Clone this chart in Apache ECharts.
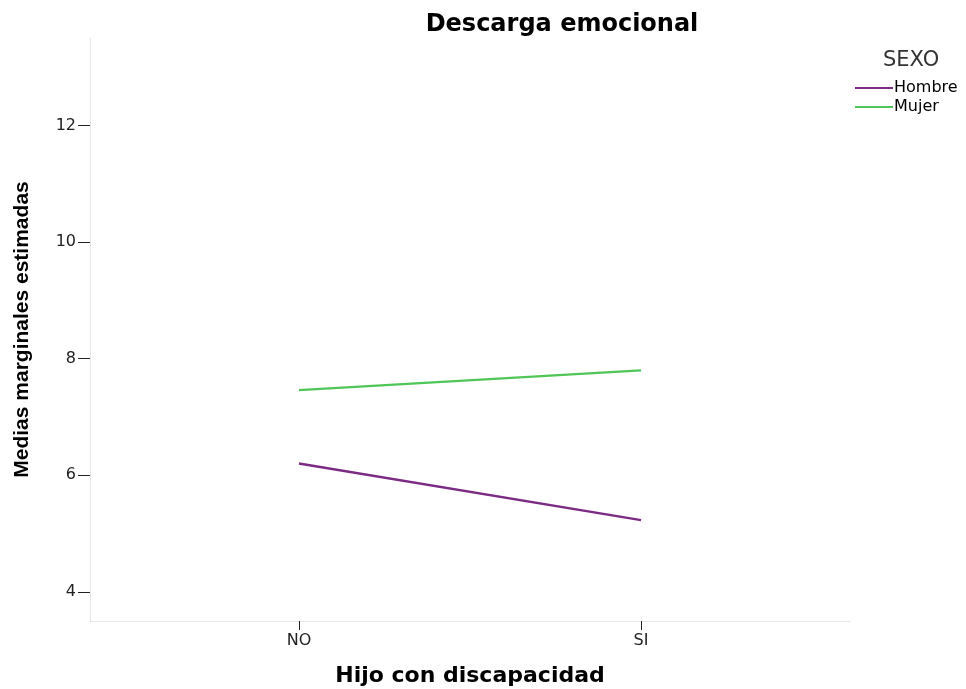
<!DOCTYPE html>
<html>
<head>
<meta charset="utf-8">
<script src="https://cdn.jsdelivr.net/npm/echarts@6/dist/echarts.min.js"></script>
<style>
  html, body { margin: 0; padding: 0; background: #fff; }
  #chart { width: 966px; height: 689px; }
</style>
</head>
<body>
<div id="chart"></div>
<script>
// categorias del eje X
const categorias = ['NO', 'SI']
// medias marginales estimadas por sexo
const hombre = [6.20, 5.23]
const mujer = [7.46, 7.80]
const ticksY = [4, 6, 8, 10, 12]

const chart = echarts.init(document.getElementById('chart'))

const toPoints = (vals) => vals.map((v, i) => [i, v])

const option = {
  backgroundColor: '#fff',
  animation: false,
  title: [
    {
      text: 'Descarga emocional',
      left: 557,
      top: 8,
      textAlign: 'center',
      textStyle: { fontFamily: 'DejaVu Sans', fontWeight: 'bold', fontSize: 24, color: '#000' }
    },
    {
      text: 'SEXO',
      left: 878,
      top: 45,
      textStyle: { fontFamily: 'DejaVu Sans', fontWeight: 'normal', fontSize: 21, color: '#333' }
    }
  ],
  legend: {
    orient: 'vertical',
    left: 850,
    top: 75,
    itemGap: 3,
    itemWidth: 38,
    itemHeight: 2,
    icon: 'rect',
    textStyle: { fontFamily: 'DejaVu Sans', fontSize: 16, color: '#000', padding: [0, 0, 0, -4] },
    data: ['Hombre', 'Mujer']
  },
  grid: { left: 90, right: 116, top: 38, bottom: 68, outerBoundsMode: 'none' },
  xAxis: {
    type: 'value',
    min: -0.611,
    max: 1.611,
    name: 'Hijo con discapacidad',
    nameLocation: 'middle',
    nameGap: 44,
    nameTextStyle: { fontFamily: 'DejaVu Sans', fontWeight: 'bold', fontSize: 22, color: '#000' },
    splitLine: { show: false },
    axisLine: { onZero: false, lineStyle: { color: '#e6e6e6', width: 1 } },
    axisTick: { customValues: [0, 1], length: 9, lineStyle: { color: '#222' } },
    axisLabel: {
      customValues: [0, 1],
      formatter: (v) => categorias[Math.round(v)],
      fontFamily: 'DejaVu Sans',
      fontSize: 16,
      color: '#222',
      margin: 12
    }
  },
  yAxis: {
    type: 'value',
    min: 3.5,
    max: 13.5,
    name: 'Medias marginales estimadas',
    nameLocation: 'middle',
    nameGap: 57,
    nameTextStyle: { fontFamily: 'Liberation Sans', fontWeight: 'bold', fontSize: 21, color: '#000' },
    splitLine: { show: false },
    axisLine: { show: true, onZero: false, lineStyle: { color: '#e6e6e6', width: 1 } },
    axisTick: { show: true, customValues: ticksY, length: 12, lineStyle: { color: '#222' } },
    axisLabel: {
      customValues: ticksY,
      fontFamily: 'DejaVu Sans',
      fontSize: 16,
      color: '#222',
      margin: 14
    }
  },
  series: [
    {
      name: 'Hombre',
      type: 'line',
      data: toPoints(hombre),
      showSymbol: false,
      color: '#7b2b83',
      lineStyle: { width: 2.5 }
    },
    {
      name: 'Mujer',
      type: 'line',
      data: toPoints(mujer),
      showSymbol: false,
      color: '#4fc657',
      lineStyle: { width: 2.2 }
    }
  ]
}

chart.setOption(option)
</script>
</body>
</html>
